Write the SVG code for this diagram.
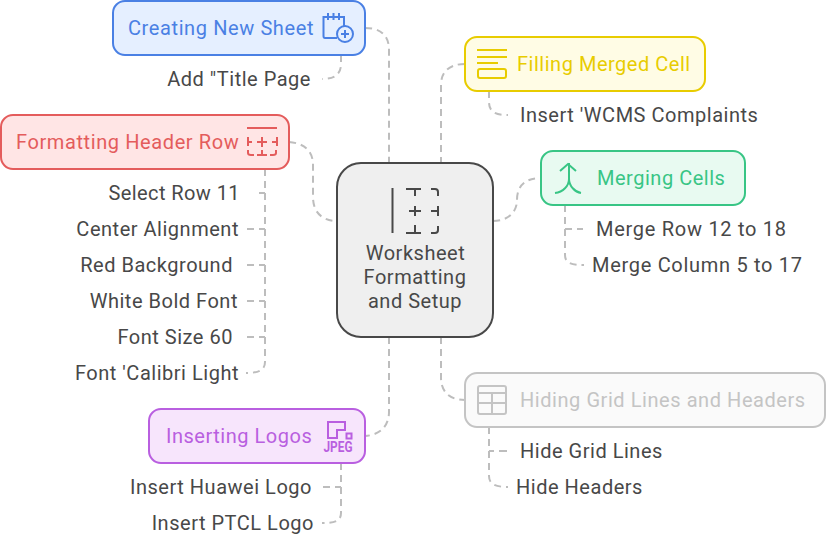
<svg xmlns="http://www.w3.org/2000/svg" width="826" height="536" viewBox="0 0 826 536">
<style>
text{font-family:Roboto,"Liberation Sans",sans-serif;font-size:20px;letter-spacing:.52px;fill:#484848}
.e{text-anchor:end}.m{text-anchor:middle}
.c{fill:none;stroke:#bdbdbd;stroke-width:2;stroke-dasharray:7 5}
.s{fill:none;stroke:#bdbdbd;stroke-width:2}
.n{stroke-width:2}
.i{fill:none;stroke-width:2}
</style>
<rect width="826" height="536" fill="#fff"/>
<g id="connectors">
<path class="c" d="M365 28C378 28 389 33 389 50V163"/>
<path class="c" d="M341 55V64C341 74 335 79 322 79"/>
<path class="c" d="M289 142C303 143 313 150 313 165V197C313 213 323 221 337 221"/>
<path class="c" d="M265 169V362C265 370 259 373 246 373"/>
<path class="s" d="M259 193H265M247 229H254M259 229H265M247 265H254M259 265H265M247 301H254M259 301H265M247 337H254M259 337H265"/>
<path class="c" d="M465 64C449 64 441 72 441 85V163"/>
<path class="c" d="M489 91V102C489 113 497 115 508 115"/>
<path class="c" d="M493 221C507 221 517 213 517 200C517 186 525 178 541 178"/>
<path class="c" d="M565 205V255C565 263 571 265 584 265"/>
<path class="s" d="M565 229H572M577 229H583"/>
<path class="c" d="M441 337V378C441 391 449 400 465 400"/>
<path class="c" d="M489 427V476C489 484 495 487 508 487"/>
<path class="s" d="M489 451H494M499 451H507"/>
<path class="c" d="M389 337V412C389 425 381 435 365 436"/>
<path class="c" d="M341 463V513C341 521 335 523 322 523"/>
<path class="s" d="M323 487H330M335 487H341"/>
</g>
<g id="center"><rect class="n" x="337" y="163" width="156" height="174" rx="24" fill="#efefef" stroke="#484848"/>
<g class="i" stroke="#484848"><path d="M392.500 188V233M406 189H421M415 189V196M409 211H421M415 206V216M438 206V216M431 211H438M406 233H421M415 233V225M431 189H435Q438 189 438 192V196M431 233H435Q438 233 438 230V226"/></g>
<text class="m" x="415.500" y="260">Worksheet</text><text class="m" x="415" y="284">Formatting</text><text class="m" x="415" y="308">and Setup</text></g>
<g id="creating"><rect class="n" x="113" y="1" width="252" height="54" rx="12" fill="#e5efff" stroke="#4a80e4"/>
<text x="128" y="35" style="fill:#4a80e4;letter-spacing:.6px">Creating New Sheet</text>
<g class="i" stroke="#4a80e4"><path d="M337 38H325Q323.500 38 323.500 36V17H344V26M328 13V20M333.500 13V20M339 13V20"/><circle cx="345" cy="34" r="8"/><path d="M345 30V38M341 34H349"/></g></g>
<g id="title"><text class="e" x="311" y="86">Add "Title Page</text></g>
<g id="header"><rect class="n" x="1" y="115" width="288" height="54" rx="12" fill="#ffe5e5" stroke="#e45c5c"/>
<text x="16" y="149" style="fill:#e45c5c;letter-spacing:.6px">Formatting Header Row</text>
<g class="i" stroke="#e45c5c"><path d="M247 128H277M248 137V146M248 142H252M277 137V146M272 142H277M257 142H267M262 137V147M248 150V153Q248 155 251 155H254M276 150V153Q276 155 273 155H270M262 150V155M257 155H267"/></g></g>
<g id="row11"><text class="e" x="240" y="200" style="letter-spacing:.42px">Select Row 11</text></g>
<g id="center-align"><text class="e" x="239" y="236">Center Alignment</text></g>
<g id="red-bg"><text class="e" x="233" y="272">Red Background</text></g>
<g id="white-bold"><text class="e" x="238" y="308">White Bold Font</text></g>
<g id="font-size"><text class="e" x="233" y="344">Font Size 60</text></g>
<g id="font-calibri"><text class="e" x="239" y="380">Font 'Calibri Light</text></g>
<g id="filling"><rect class="n" x="465" y="37" width="240" height="54" rx="12" fill="#fffce5" stroke="#e8cc00"/>
<text x="517" y="71" style="fill:#e8cc00">Filling Merged Cell</text>
<g class="i" stroke="#e8cc00"><path d="M477 50H507M477 57H507M477 63H498"/><rect x="478" y="69" width="28" height="9" rx="2"/></g></g>
<g id="wcms"><text x="520" y="122">Insert 'WCMS Complaints</text></g>
<g id="merging"><rect class="n" x="541" y="151" width="204" height="54" rx="12" fill="#e8faf1" stroke="#38c585"/>
<text x="597" y="185" style="fill:#38c585">Merging Cells</text>
<g class="i" stroke="#38c585"><path d="M569 163V179C569 186 563 192 555 193M569 179C569 186 575 192 581 193M560 171L568 164L576 171"/></g></g>
<g id="row12"><text x="596" y="236" style="letter-spacing:.72px">Merge Row 12 to 18</text></g>
<g id="col5"><text x="592" y="272" style="letter-spacing:.7px">Merge Column 5 to 17</text></g>
<g id="hiding"><rect class="n" x="465" y="373" width="360" height="54" rx="12" fill="#fafafa" stroke="#c4c4c4"/>
<text x="520" y="407" style="fill:#c4c4c4;letter-spacing:.56px">Hiding Grid Lines and Headers</text>
<g class="i" stroke="#c4c4c4"><rect x="478" y="386" width="28" height="28" rx="2"/><path d="M478 393H506M478 403H506M492 393V414"/></g></g>
<g id="gridlines"><text x="520" y="458">Hide Grid Lines</text></g>
<g id="headers"><text x="516" y="494">Hide Headers</text></g>
<g id="logos"><rect class="n" x="149" y="409" width="216" height="54" rx="12" fill="#f7e5fc" stroke="#b95fe0"/>
<text x="166" y="443" style="fill:#b95fe0">Inserting Logos</text>
<g class="i" stroke="#b95fe0"><path d="M328 422H345V430H337V438H328Z"/><rect x="346.500" y="433.500" width="5" height="5"/></g>
<text x="323.500" y="451.500" textLength="29" lengthAdjust="spacingAndGlyphs" style="fill:#b95fe0;font-size:14.500px;font-weight:700;letter-spacing:0">JPEG</text></g>
<g id="huawei"><text class="e" x="312" y="494">Insert Huawei Logo</text></g>
<g id="ptcl"><text class="e" x="314" y="530">Insert PTCL Logo</text></g>
</svg>
